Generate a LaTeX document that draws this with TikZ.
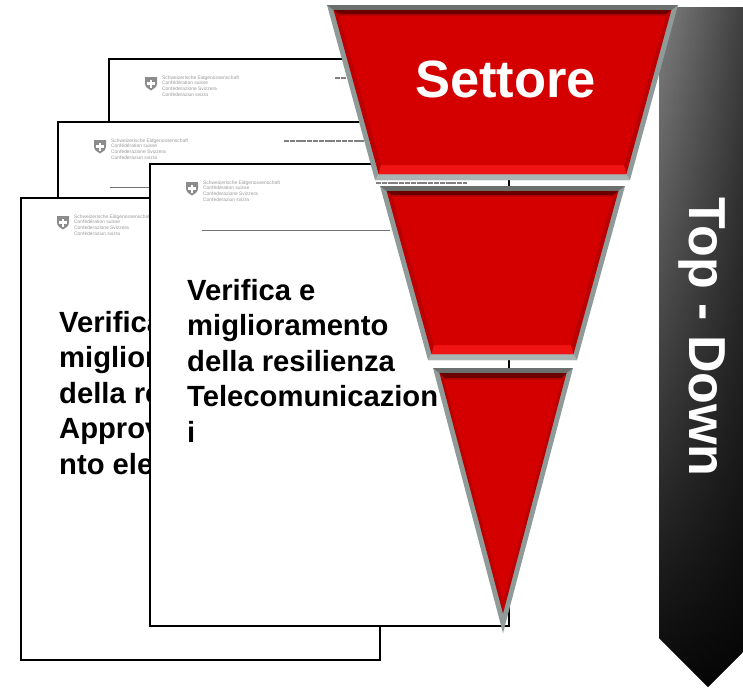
\documentclass[tikz,border=0pt]{standalone}
\usepackage{fontspec}
\setmainfont{Liberation Sans}
\usetikzlibrary{calc,fadings}
\tikzfading[name=darkright,left color=transparent!100,right color=transparent!50]
\definecolor{frameside}{HTML}{8E9B99}
\definecolor{frametop}{HTML}{6B6F6E}
\definecolor{framebot}{HTML}{A9B5B2}
\definecolor{redflat}{HTML}{D40000}
\definecolor{redside}{HTML}{BA0000}
\definecolor{redtop}{HTML}{6A0000}
\definecolor{redbot}{HTML}{F01414}
\tikzset{
  pagebox/.style={draw=black,line width=2pt,fill=white,minimum width=359pt,minimum height=462pt,anchor=north west,inner sep=0pt,outer sep=0pt},
  headtext/.style={text=black!40,font=\fontsize{4.9}{5.7}\selectfont,align=left,anchor=north west,inner sep=0pt},
  bodytext/.style={text=black,font=\bfseries\fontsize{29.2}{35.5}\selectfont,align=left,anchor=north west,inner sep=0pt},
  refline/.style={draw=black!50,line width=1.4pt,dash pattern=on 5pt off 0.8pt},
  rulegray/.style={draw=black!55,line width=0.8pt}
}
\newcommand{\docpage}[3]{%
  \node[pagebox] (#1) at (#2,#3) {};
  \begin{scope}[shift={(#2,#3)}]
    \fill[black!45] (36,18) -- (48,18) -- (48,24) .. controls (48,28) and (45,30) .. (42,31.5) .. controls (39,30) and (36,28) .. (36,24) -- cycle;
    \fill[white] (40.6,20.5) rectangle (43.4,28.5);
    \fill[white] (38,23.1) rectangle (46,25.9);
    \node[headtext] (#1h) at (53,16.5) {Schweizerische Eidgenossenschaft\\Confédération suisse\\Confederazione Svizzera\\Confederaziun svizra};
  \end{scope}}
\newcommand{\funnelpart}{%
  \fill[frameside] (o1) -- (o2) -- (o3) -- (o4) -- cycle;
  \fill[frametop] (o1) -- (o2) -- (m2) -- (m1) -- cycle;
  \fill[framebot] (o4) -- (o3) -- (m3) -- (m4) -- cycle;
  \fill[redside] (m1) -- (m2) -- (m3) -- (m4) -- cycle;
  \fill[redtop] (m1) -- (m2) -- ($(f2)+(0,-2)$) -- ($(f1)+(0,-2)$) -- cycle;
  \fill[redbot] (m4) -- (m3) -- (f3) -- (f4) -- cycle;
  \fill[redflat] (f1) -- (f2) -- (f3) -- (f4) -- cycle;}
\newcommand{\quadset}[5]{%
  \coordinate (#11) at #2; \coordinate (#12) at #3; \coordinate (#13) at #4; \coordinate (#14) at #5;}
\begin{document}
\begin{tikzpicture}[x=1pt,y=-1pt]
\useasboundingbox (0,0) rectangle (743,689);
\docpage{docA}{109}{59}
\draw[refline] (335,78) -- (346,78);
\docpage{docB}{58}{122}
\draw[refline] (284,141) -- (372,141);
\draw[rulegray] (110,187) -- (150,187);
\docpage{docC}{21}{198}
\node[bodytext] (docCt) at (59,311) {Verifica e\\miglioramento\\della resilienza\\Approvvigioname\\nto elettrico};
\docpage{docD}{150}{164}
\draw[refline] (376,183) -- (467,183);
\draw[rulegray] (202,230) -- (390,230);
\node[bodytext] (docDt) at (187,279) {Verifica e\\miglioramento\\della resilienza\\Telecomunicazion\\i};
% arrow
\path[top color=black!50!white,middle color=black!74!white,bottom color=black!97!white] (659,7) -- (743,7) -- (743,652) -- (708,687) -- (659,638) -- cycle;
\fill[black,path fading=darkright] (659,7) -- (743,7) -- (743,652) -- (708,687) -- (659,638) -- cycle;
\node[text=white,font=\bfseries\fontsize{52}{60}\selectfont,inner sep=0pt,anchor=base,rotate=-90] (topdown) at (689,337) {Top - Down};
% funnels
\quadset{o}{(327,5)}{(678,5)}{(630,180)}{(375,180)}
\quadset{m}{(333.6,10)}{(671.4,10)}{(626.4,174)}{(378.6,174)}
\quadset{f}{(339,16)}{(666,16)}{(624,165)}{(381,165)}
\funnelpart
\quadset{o}{(380,186)}{(625,186)}{(577,360)}{(428,360)}
\quadset{m}{(386.6,191)}{(618.4,191)}{(573.5,354)}{(431.5,354)}
\quadset{f}{(392.3,197)}{(612.7,197)}{(571,345)}{(434,345)}
\funnelpart
\quadset{o}{(433,368)}{(573,368)}{(503,633)}{(503,633)}
\quadset{m}{(439.5,373)}{(566.5,373)}{(503,613.5)}{(503,613.5)}
\quadset{f}{(444.3,380)}{(561.7,380)}{(503,601)}{(503,601)}
\funnelpart
\node[text=white,font=\bfseries\fontsize{52.5}{60}\selectfont,inner sep=0pt,anchor=base] (settore) at (505.5,97) {Settore};
\end{tikzpicture}
\end{document}
